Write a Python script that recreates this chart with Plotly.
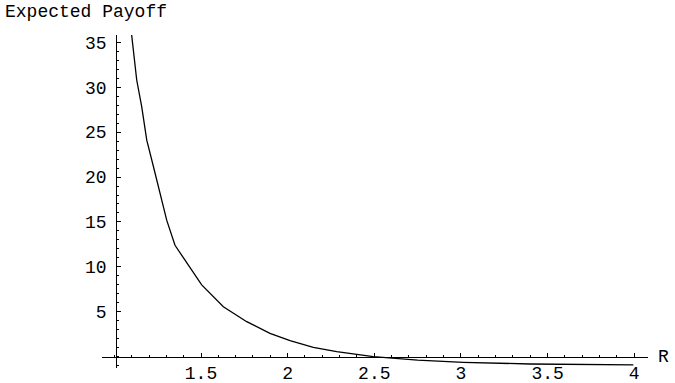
import plotly.graph_objects as go

# Data
r_values = [1.09, 1.100, 1.129, 1.158, 1.187, 1.225, 1.263, 1.302, 1.350, 1.436,
            1.504, 1.629, 1.764, 1.898, 2.014, 2.148, 2.283, 2.494, 2.75, 3.014,
            3.398, 3.995]
payoff = [37.5, 35.8, 30.8, 27.8, 24.1, 21.2, 18.2, 15.2, 12.4, 10.0,
          8.0, 5.57, 3.90, 2.60, 1.78, 1.05, 0.56, 0.0, -0.38, -0.62,
          -0.81, -0.90]
x_tick_vals = [1.5, 2, 2.5, 3, 3.5, 4]
x_tick_text = ["1.5", "2", "2.5", "3", "3.5", "4"]
y_tick_vals = [5, 10, 15, 20, 25, 30, 35]
y_tick_text = ["5", "10", "15", "20", "25", "30", "35"]
x_label = "R"
y_label = "Expected Payoff"

W, H = 675, 383
x_range = [0.9287, 4.0794]
y_range = [-1.2, 35.81]
x_domain = [102 / W, 648 / W]
y_domain = [(H - 367.5) / H, (H - 35) / H]
x_origin = 1.01
y_origin = 0.0

xpos = x_domain[0] + (x_origin - x_range[0]) / (x_range[1] - x_range[0]) * (x_domain[1] - x_domain[0])
ypos = y_domain[0] + (y_origin - y_range[0]) / (y_range[1] - y_range[0]) * (y_domain[1] - y_domain[0])

FONT = "Liberation Mono, Courier New, monospace"
fs = 18

fig = go.Figure()
fig.add_trace(go.Scatter(x=r_values, y=payoff, mode="lines",
                         line=dict(color="black", width=1.3),
                         showlegend=False, hoverinfo="skip"))

fig.update_layout(
    width=W, height=H,
    margin=dict(l=0, r=0, t=0, b=0, autoexpand=False),
    paper_bgcolor="white", plot_bgcolor="white",
    font=dict(family=FONT, size=fs, color="black"),
    xaxis=dict(domain=x_domain, range=x_range, anchor="free", position=ypos,
               automargin=False,
               showgrid=False, zeroline=False, showline=True, linecolor="black",
               linewidth=1, ticks="inside", ticklen=4, tickwidth=1, tickcolor="black",
               tickmode="array", tickvals=x_tick_vals, ticktext=x_tick_text,
               tickfont=dict(family=FONT, size=fs, color="black"),
               minor=dict(tickmode="linear", tick0=1.0, dtick=0.1, ticks="inside",
                          ticklen=2, tickcolor="black", showgrid=False)),
    yaxis=dict(domain=y_domain, range=y_range, anchor="free", position=xpos,
               automargin=False, ticklabelstandoff=6,
               showgrid=False, zeroline=False, showline=True, linecolor="black",
               linewidth=1, ticks="inside", ticklen=4, tickwidth=1, tickcolor="black",
               tickmode="array", tickvals=y_tick_vals, ticktext=y_tick_text,
               tickfont=dict(family=FONT, size=fs, color="black"),
               minor=dict(tickmode="linear", tick0=0, dtick=1, ticks="inside",
                          ticklen=2, tickcolor="black", showgrid=False)),
    annotations=[
        dict(text=y_label, xref="paper", yref="paper", x=3 / W, y=1 - 12 / H,
             xanchor="left", yanchor="middle", showarrow=False,
             font=dict(family=FONT, size=fs, color="black")),
        dict(text=x_label, xref="paper", yref="paper", x=656 / W, y=ypos,
             xanchor="left", yanchor="middle", showarrow=False,
             font=dict(family=FONT, size=fs, color="black")),
    ],
)

fig.write_html("out.html",
               config={"displayModeBar": False, "staticPlot": True},
               post_script="document.body.style.margin='0px';")
